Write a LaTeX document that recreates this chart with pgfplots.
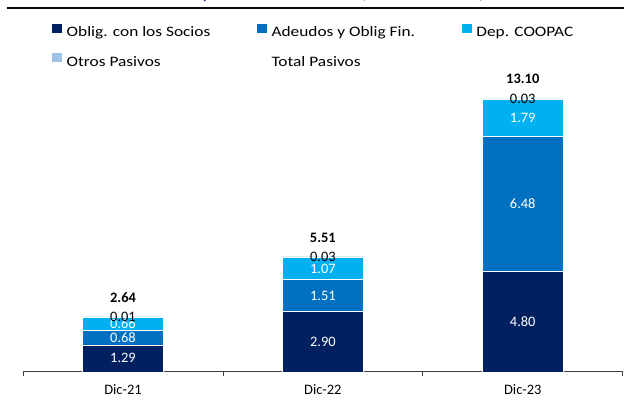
\documentclass[border=0pt]{standalone}
\usepackage{pgfplots}
\pgfplotsset{compat=1.18}
\usepackage{fontspec}
\setmainfont{Carlito}
\newfontfamily\widefont[FakeStretch=1.2]{Carlito}
\definecolor{cnavy}{RGB}{0,32,96}
\definecolor{cmid}{RGB}{0,112,192}
\definecolor{ccyan}{RGB}{0,176,240}
\definecolor{clight}{RGB}{157,195,230}
\definecolor{ctitle}{RGB}{32,56,140}
\definecolor{cline}{RGB}{8,8,8}
\newcommand{\lb}[1]{\makebox[186bp][l]{#1}}
\begin{document}
\begin{tikzpicture}
\path (0,0) rectangle (624bp,401bp);
\pgfplotsset{commonax/.style={
  at={(23bp,29bp)}, anchor=south west,
  width=600bp, height=364bp, scale only axis,
  xmin=-0.5, xmax=2.5, ymin=0, ymax=17.42,
  clip=false}}
\begin{axis}[commonax,
  ybar stacked, bar width=81bp,
  axis x line*=bottom, axis y line*=left,
  y axis line style={draw=none},
  ytick=\empty,
  extra y ticks={17.42}, extra y tick labels={},
  extra y tick style={grid=major, major grid style={cline, line width=2.6bp}, major tick length=0pt},
  x axis line style={black!75, line width=0.8bp},
  xtick={0,1,2}, xticklabels={Dic-21,Dic-22,Dic-23},
  major tick length=0pt,
  minor xtick={-0.5,0.5,1.5,2.5}, minor tick length=4bp,
  tick align=outside, tick style={black!75, line width=0.8bp},
  xticklabel style={font=\fontsize{14.5}{16}\selectfont, yshift=-9bp},
  legend image code/.code={\path[#1,draw=none] (0bp,0bp) rectangle (10bp,9bp);},
  legend columns=3, legend cell align=left,
  legend style={draw=none, fill=none, inner sep=0pt, at={(0.0483,0.9576)}, anchor=north west,
    font=\widefont\fontsize{14.5}{17}\selectfont, /tikz/column sep=4.5bp, row sep=15bp,
    nodes={inner sep=0pt}},
]
\addplot[fill=cnavy, draw=white, line width=0.4bp] coordinates {(0,1.29) (1,2.90) (2,4.80)};
\addlegendentry{\lb{Oblig. con los Socios}}
\addplot[fill=cmid, draw=white, line width=0.4bp] coordinates {(0,0.68) (1,1.51) (2,6.48)};
\addlegendentry{\lb{Adeudos y Oblig Fin.}}
\addplot[fill=ccyan, draw=white, line width=0.4bp] coordinates {(0,0.66) (1,1.07) (2,1.79)};
\addlegendentry{Dep. COOPAC}
\addplot[fill=clight, draw=white, line width=0.4bp] coordinates {(0,0.01) (1,0.03) (2,0.03)};
\addlegendentry{\lb{Otros Pasivos}}
\addlegendimage{fill=none, draw=none}
\addlegendentry{Total Pasivos}
\end{axis}
\begin{axis}[commonax, hide axis]
\addplot[draw=none, mark=none, nodes near coords, point meta=explicit symbolic,
  every node near coord/.append style={anchor=center, text=white, font=\fontsize{14.5}{16}\selectfont}]
  table[meta=label] {
x y label
0 0.645 1.29
0 1.63 0.68
0 2.30 0.66
1 1.45 2.90
1 3.655 1.51
1 4.945 1.07
2 2.40 4.80
2 8.04 6.48
2 12.165 1.79
};
\addplot[draw=none, mark=none, nodes near coords, point meta=explicit symbolic,
  every node near coord/.append style={anchor=center, text=black, font=\fontsize{14.5}{16}\selectfont}]
  table[meta=label] {
x y label
0 2.635 0.01
1 5.495 0.03
2 13.085 0.03
};
\addplot[draw=none, mark=none, nodes near coords, point meta=explicit symbolic,
  every node near coord/.append style={anchor=center, yshift=19bp, text=black, font=\fontsize{14.5}{16}\selectfont\bfseries}]
  table[meta=label] {
x y label
0 2.64 2.64
1 5.51 5.51
2 13.10 13.10
};
\end{axis}
\draw[red!0!white, line width=0.1bp, opacity=0] (0bp,200bp) -- (1bp,200bp);
\fill[cline] (7bp,391.6bp) rectangle (624bp,394.2bp);
\node[overlay, anchor=base, font=\widefont\fontsize{19.5}{22}\selectfont\itshape, text=ctitle, inner sep=0pt]
  at (324bp,402.3bp) {Composición Pasivos (En PEN MM)};
\end{tikzpicture}
\end{document}
